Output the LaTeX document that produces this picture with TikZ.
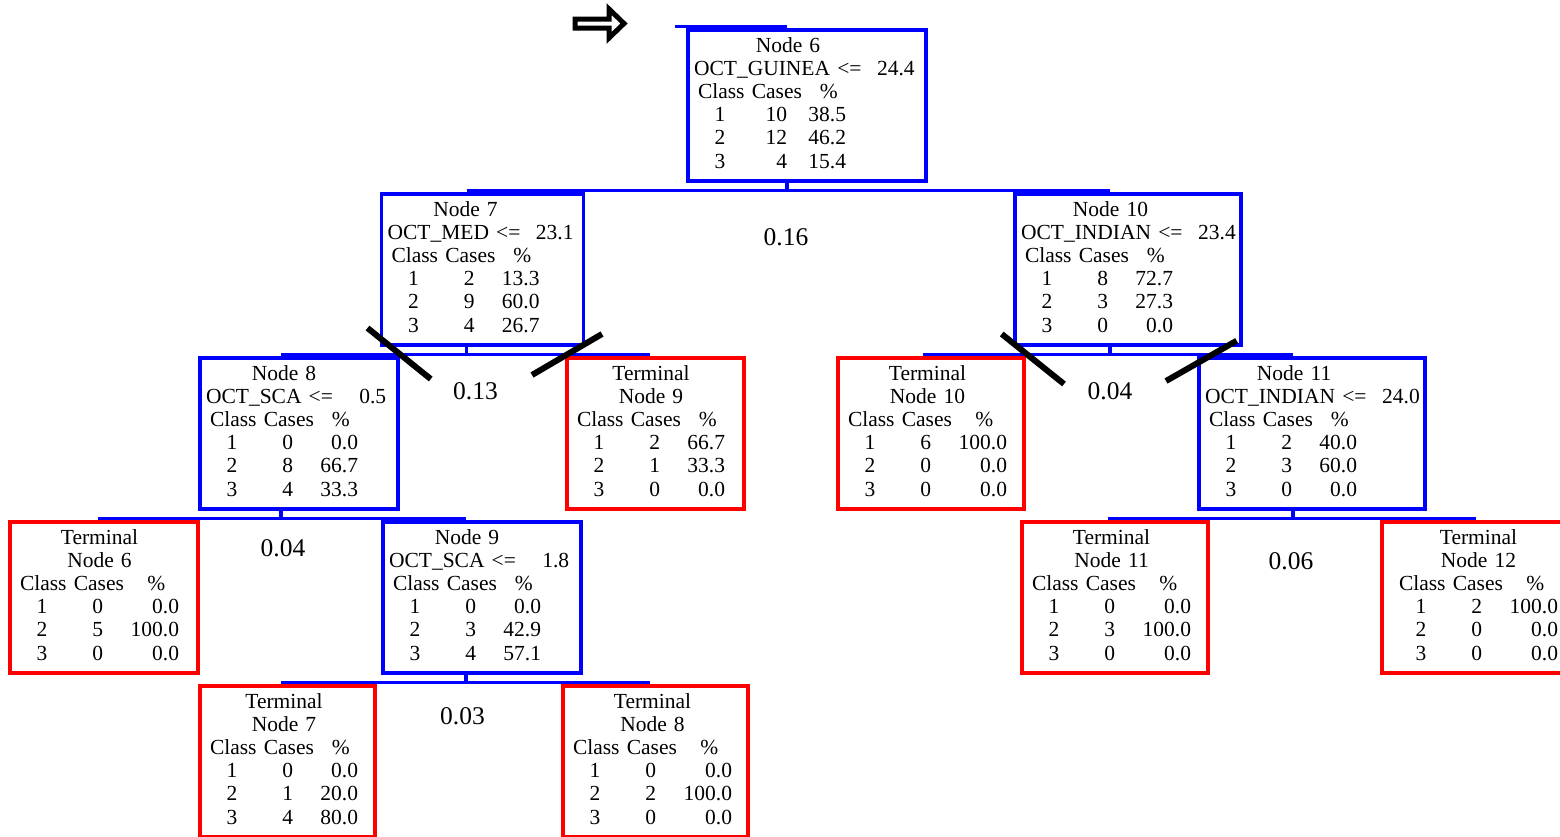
\documentclass[tikz,border=0pt]{standalone}
\usepackage{fontspec}
\setmainfont{Liberation Serif}
\usepackage{array}
\tikzset{box/.style={draw=#1, rectangle, line width=3.3pt, outer sep=0pt, inner xsep=10pt, inner ysep=0pt,
    minimum height=151pt, anchor=north west, align=left, font=\fontsize{21.5}{23.2}\selectfont},
  split/.style={box=blue}, term/.style={box=red},
  link/.style={blue, line width=3.3pt},
  cut/.style={black, line width=6pt},
  gain/.style={inner sep=0pt, font=\fontsize{25.5}{28}\selectfont}}

% split box: header, variable, value, then cases/percent for classes 1-3
\newcommand{\splitnode}[9]{%
  \begin{tabular}{@{}w{c}{44pt}@{}w{r}{39pt}@{}w{r}{65pt}@{}}
    \multicolumn{3}{c}{#1}\\
    \multicolumn{3}{@{}l@{}}{\hspace*{-4pt}\rlap{#2 <= \makebox[46pt][r]{#3}}}\\
    \multicolumn{3}{@{}l@{}}{Class Cases\hspace{18pt}\%}\\
    1 & #4 & #5\\
    2 & #6 & #7\\
    3 & #8 & #9
  \end{tabular}}
% terminal box: [width of % column], node label, then cases/percent
\newcommand{\termnode}[8][65pt]{%
  \begin{tabular}{@{}w{c}{44pt}@{}w{r}{39pt}@{}w{r}{#1}@{}}
    \multicolumn{3}{c}{Terminal}\\
    \multicolumn{3}{c}{#2}\\
    \multicolumn{3}{@{}l@{}}{Class Cases\hspace{\dimexpr 18pt+(#1-65pt)/2\relax}\%}\\
    1 & #3 & #4\\
    2 & #5 & #6\\
    3 & #7 & #8
  \end{tabular}}

\begin{document}
\begin{tikzpicture}[x=1pt, y=-1pt]
  \useasboundingbox (0,0) rectangle (1560,836);

  % boxes
  \node[split, text width=218pt] (n6) at (688,30) {\splitnode{\kern32pt Node 6}{OCT\_GUINEA}{24.4}{10\kern-6pt}{38.5}{12\kern-6pt}{46.2}{4\kern-6pt}{15.4}};
  \node[split, text width=182pt] (n7) at (381.5,194) {\splitnode{Node 7}{OCT\_MED}{23.1}{2}{13.3}{9}{60.0}{4}{26.7}};
  \node[split, text width=206pt] (n10) at (1015,194) {\splitnode{\kern23pt Node 10}{OCT\_INDIAN}{23.4}{8}{72.7}{3}{27.3}{0}{0.0}};
  \node[split, text width=178pt] (n8) at (200,358) {\splitnode{Node 8}{OCT\_SCA}{0.5}{0}{0.0}{8}{66.7}{4}{33.3}};
  \node[term, text width=157pt] (t9) at (567,358) {\termnode{Node 9}{2}{66.7}{1}{33.3}{0}{0.0}};
  \node[term, text width=166pt] (t10) at (838,358) {\termnode[76pt]{Node 10}{6}{100.0}{0}{0.0}{0}{0.0}};
  \node[split, text width=206pt] (n11) at (1199,358) {\splitnode{\kern22pt Node 11}{OCT\_INDIAN}{24.0}{2}{40.0}{3}{60.0}{0}{0.0}};
  \node[term, text width=168pt] (t6) at (10,522) {\termnode[76pt]{Node 6}{0}{0.0}{5}{100.0}{0}{0.0}};
  \node[split, text width=178pt] (n9) at (383,522) {\splitnode{Node 9}{OCT\_SCA}{1.8}{0}{0.0}{3}{42.9}{4}{57.1}};
  \node[term, text width=166pt] (t11) at (1022,522) {\termnode[76pt]{Node 11}{0}{0.0}{3}{100.0}{0}{0.0}};
  \node[term, text width=160pt, inner xsep=17pt] (t12) at (1382,522) {\termnode[76pt]{Node 12}{2}{100.0}{0}{0.0}{0}{0.0}};
  \node[term, text width=155pt] (t7) at (200,686) {\termnode{Node 7}{0}{0.0}{1}{20.0}{4}{80.0}};
  \node[term, text width=165pt] (t8) at (563,686) {\termnode[76pt]{Node 8}{0}{0.0}{2}{100.0}{0}{0.0}};

  % where each box hangs from its bar
  \coordinate (n6s) at ([xshift=99pt, yshift=3.3pt]n6.north west);
  \coordinate (n7s) at ([xshift=85pt, yshift=3.3pt]n7.north west);
  \coordinate (n10s) at ([xshift=95pt, yshift=3.3pt]n10.north west);
  \coordinate (n8s) at ([xshift=81pt, yshift=3.3pt]n8.north west);
  \coordinate (t9s) at ([xshift=83pt, yshift=3.3pt]t9.north west);
  \coordinate (t10s) at ([xshift=85pt, yshift=3.3pt]t10.north west);
  \coordinate (n11s) at ([xshift=94pt, yshift=3.3pt]n11.north west);
  \coordinate (t6s) at ([xshift=88pt, yshift=3.3pt]t6.north west);
  \coordinate (n9s) at ([xshift=83pt, yshift=3.3pt]n9.north west);
  \coordinate (t11s) at ([xshift=86pt, yshift=3.3pt]t11.north west);
  \coordinate (t12s) at ([xshift=94pt, yshift=3.3pt]t12.north west);
  \coordinate (t7s) at ([xshift=81pt, yshift=3.3pt]t7.north west);
  \coordinate (t8s) at ([xshift=87pt, yshift=3.3pt]t8.north west);

  % connectors
  \draw[link] ([xshift=-112pt]n6s) -- (n6s);
  \draw[link] (n6.south -| n6s) -- (n6s |- n7s);
  \draw[link] (n7s) -- (n10s);
  \draw[link] (n7.south -| n7s) -- (n7s |- n8s);
  \draw[link] (n8s) -- (t9s);
  \draw[link] (n10.south -| n10s) -- (n10s |- t10s);
  \draw[link] (t10s) -- (n11s);
  \draw[link] (n8.south -| n8s) -- (n8s |- t6s);
  \draw[link] (t6s) -- (n9s);
  \draw[link] (n11.south -| n11s) -- (n11s |- t11s);
  \draw[link] (t11s) -- (t12s);
  \draw[link] (n9.south -| n9s) -- (n9s |- t7s);
  \draw[link] (t7s) -- (t8s);

  % improvement values
  \node[gain] (g6) at (786,237) {0.16};
  \node[gain] (g7) at (475.5,391.5) {0.13};
  \node[gain] (g10) at (1110,391.5) {0.04};
  \node[gain] (g8) at (283,548) {0.04};
  \node[gain] (g11) at (1291,561.5) {0.06};
  \node[gain] (g9) at (462.5,716.5) {0.03};

  % pruning marks
  \draw[cut] (367.5,328) -- (430.7,379);
  \draw[cut] (532,375) -- (602,334);
  \draw[cut] (1001.7,334) -- (1064,384);
  \draw[cut] (1166,381) -- (1236.7,340.7);

  % root arrow
  \draw[black, line width=5pt, fill=white] (575,19) -- (609,19) -- (609,9) -- (624,23.5)
    -- (609,38) -- (609,28) -- (575,28) -- cycle;
\end{tikzpicture}
\end{document}
